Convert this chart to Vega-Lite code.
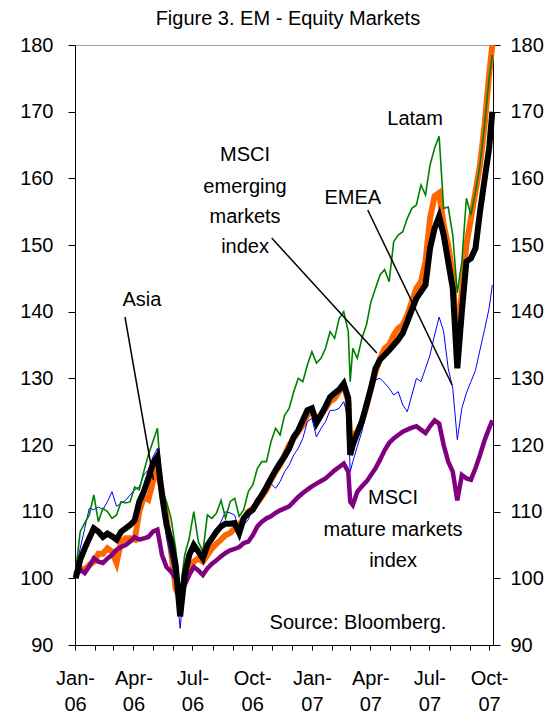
{
  "$schema": "https://vega.github.io/schema/vega-lite/v6.json",
  "width": 418,
  "height": 600,
  "autosize": "none",
  "padding": {"left": 75, "top": 45, "right": 56, "bottom": 72},
  "background": "white",
  "config": {
    "view": {"stroke": "#a6a6a6", "strokeWidth": 1},
    "axis": {"labelFont": "Liberation Sans", "labelFontSize": 20, "labelColor": "black", "domainColor": "black", "tickColor": "black", "grid": false, "title": null},
    "text": {"font": "Liberation Sans", "fontSize": 20, "color": "black"}
  },
  "datasets": {
    "series": [
      {"d":"2006-01-02","M":100,"E":100.5,"L":101,"A":101,"W":100.5},
      {"d":"2006-01-09","M":102.8,"E":101.5,"L":107,"A":104.5,"W":101.3},
      {"d":"2006-01-16","M":104.5,"E":101.3,"L":108.3,"A":107.5,"W":100.8},
      {"d":"2006-01-23","M":106,"E":102,"L":109.5,"A":110.5,"W":101.8},
      {"d":"2006-01-30","M":107.5,"E":102.5,"L":112.5,"A":110.3,"W":103},
      {"d":"2006-02-06","M":107,"E":103.7,"L":108.5,"A":110.7,"W":102.5},
      {"d":"2006-02-13","M":106.2,"E":103.7,"L":110.5,"A":110.3,"W":102.3},
      {"d":"2006-02-20","M":106.7,"E":104.5,"L":110,"A":111.5,"W":103},
      {"d":"2006-02-27","M":106.3,"E":104,"L":109,"A":113,"W":103.5},
      {"d":"2006-03-06","M":105.8,"E":102.3,"L":109.5,"A":110.8,"W":104.3},
      {"d":"2006-03-13","M":107,"E":105.5,"L":111.5,"A":111.3,"W":104.7},
      {"d":"2006-03-20","M":107.5,"E":106,"L":111.3,"A":111.7,"W":105},
      {"d":"2006-03-27","M":108,"E":106,"L":111.5,"A":112.5,"W":105.5},
      {"d":"2006-04-03","M":108.7,"E":105.8,"L":113.7,"A":113.3,"W":106.2},
      {"d":"2006-04-10","M":111.5,"E":110,"L":113.3,"A":113.7,"W":105.8},
      {"d":"2006-04-17","M":113,"E":112.2,"L":116,"A":115.5,"W":106},
      {"d":"2006-04-24","M":115,"E":111.8,"L":118.5,"A":116.3,"W":106.2},
      {"d":"2006-05-01","M":117.2,"E":114.5,"L":120.5,"A":118.2,"W":107},
      {"d":"2006-05-08","M":118.3,"E":116.5,"L":122.5,"A":119.5,"W":107.3},
      {"d":"2006-05-15","M":112.5,"E":113,"L":113,"A":112,"W":103.5},
      {"d":"2006-05-22","M":108,"E":109,"L":111.5,"A":106,"W":101.7},
      {"d":"2006-05-29","M":105.5,"E":104,"L":109,"A":103,"W":101},
      {"d":"2006-06-05","M":102,"E":98.5,"L":104.5,"A":99.5,"W":100},
      {"d":"2006-06-12","M":94.3,"E":97,"L":98,"A":92.5,"W":98.5},
      {"d":"2006-06-19","M":100.5,"E":99.5,"L":103.5,"A":100,"W":99},
      {"d":"2006-06-26","M":103.5,"E":101,"L":106,"A":102,"W":100.5},
      {"d":"2006-07-03","M":105,"E":102.5,"L":110,"A":105.5,"W":101.7},
      {"d":"2006-07-10","M":104,"E":103,"L":105.5,"A":103.5,"W":101.2},
      {"d":"2006-07-17","M":103,"E":102.5,"L":104,"A":102.5,"W":100.5},
      {"d":"2006-07-24","M":105,"E":103.5,"L":109.5,"A":105,"W":101.5},
      {"d":"2006-07-31","M":106,"E":104.5,"L":109,"A":105.5,"W":102.2},
      {"d":"2006-08-07","M":107,"E":105.2,"L":109.8,"A":107,"W":102.7},
      {"d":"2006-08-14","M":107.8,"E":105.8,"L":111.7,"A":108.5,"W":103.3},
      {"d":"2006-08-21","M":108.2,"E":106.5,"L":109,"A":110,"W":103.8},
      {"d":"2006-08-28","M":108.2,"E":106.8,"L":111.5,"A":109.8,"W":104.2},
      {"d":"2006-09-04","M":108.3,"E":107.5,"L":112,"A":109.5,"W":104.4},
      {"d":"2006-09-11","M":106.8,"E":108,"L":109.3,"A":107,"W":104.7},
      {"d":"2006-09-18","M":109,"E":109,"L":110.3,"A":108,"W":105.3},
      {"d":"2006-09-25","M":109.8,"E":110,"L":113,"A":108.8,"W":105.5},
      {"d":"2006-10-02","M":110.3,"E":110.5,"L":114,"A":110.5,"W":106.5},
      {"d":"2006-10-09","M":111.5,"E":111.3,"L":116.5,"A":111.8,"W":107.8},
      {"d":"2006-10-16","M":112.5,"E":112.3,"L":117.5,"A":112.8,"W":108.5},
      {"d":"2006-10-23","M":113.7,"E":113.3,"L":117.5,"A":113.5,"W":109},
      {"d":"2006-10-30","M":115,"E":114.8,"L":120.5,"A":114.2,"W":109.3},
      {"d":"2006-11-06","M":116.2,"E":116,"L":122.5,"A":113.5,"W":109.8},
      {"d":"2006-11-13","M":117.3,"E":117,"L":121.5,"A":114.5,"W":110.2},
      {"d":"2006-11-20","M":118.3,"E":118.5,"L":124.5,"A":116,"W":110.5},
      {"d":"2006-11-27","M":119.5,"E":120,"L":125.5,"A":117,"W":110.8},
      {"d":"2006-12-04","M":121.2,"E":121,"L":128,"A":118.5,"W":111.5},
      {"d":"2006-12-11","M":122.2,"E":122,"L":130,"A":119.5,"W":112.2},
      {"d":"2006-12-18","M":123.7,"E":123,"L":129.5,"A":121,"W":112.8},
      {"d":"2006-12-25","M":125.2,"E":124.5,"L":132,"A":123.5,"W":113.3},
      {"d":"2007-01-01","M":125.5,"E":125,"L":134,"A":124,"W":113.8},
      {"d":"2007-01-08","M":123.3,"E":124,"L":132.3,"A":121.2,"W":114.2},
      {"d":"2007-01-15","M":124.5,"E":124.5,"L":133,"A":122.5,"W":114.6},
      {"d":"2007-01-22","M":125.8,"E":125.5,"L":134.5,"A":123.5,"W":115},
      {"d":"2007-01-29","M":127.2,"E":126.5,"L":137,"A":125.2,"W":115.6},
      {"d":"2007-02-05","M":127.8,"E":127,"L":136,"A":125.2,"W":116.2},
      {"d":"2007-02-12","M":128.3,"E":128,"L":139,"A":125.5,"W":116.7},
      {"d":"2007-02-19","M":129.2,"E":129,"L":140,"A":126.5,"W":117.2},
      {"d":"2007-02-26","M":127,"E":126.5,"L":137,"A":124,"W":116},
      {"d":"2007-03-01","M":118.5,"E":120,"L":129.5,"A":116,"W":111.5},
      {"d":"2007-03-05","M":120,"E":121.5,"L":134.5,"A":117.5,"W":111},
      {"d":"2007-03-12","M":121.8,"E":122,"L":133,"A":119.8,"W":113},
      {"d":"2007-03-19","M":123.5,"E":123.5,"L":136,"A":122,"W":113.8},
      {"d":"2007-03-26","M":126,"E":125.8,"L":138,"A":125,"W":114.5},
      {"d":"2007-04-02","M":128.5,"E":128.5,"L":141.5,"A":127.5,"W":115.5},
      {"d":"2007-04-09","M":131.5,"E":131,"L":143.5,"A":129.8,"W":116.5},
      {"d":"2007-04-16","M":132.8,"E":133,"L":145.5,"A":130,"W":117.8},
      {"d":"2007-04-23","M":133.5,"E":134.5,"L":146.3,"A":129.3,"W":119.2},
      {"d":"2007-04-30","M":134.2,"E":135,"L":144.5,"A":128.5,"W":120.3},
      {"d":"2007-05-07","M":135,"E":136.5,"L":150.5,"A":127.5,"W":121},
      {"d":"2007-05-14","M":135.8,"E":137.5,"L":151.5,"A":128,"W":121.5},
      {"d":"2007-05-21","M":136.8,"E":138,"L":152,"A":126,"W":122},
      {"d":"2007-05-28","M":138.5,"E":139.5,"L":154,"A":125,"W":122.3},
      {"d":"2007-06-04","M":140.3,"E":141.5,"L":155.5,"A":127.5,"W":122.6},
      {"d":"2007-06-11","M":142,"E":143.5,"L":156,"A":130,"W":122.8},
      {"d":"2007-06-18","M":143,"E":144.5,"L":159,"A":129.5,"W":122.3},
      {"d":"2007-06-25","M":144,"E":147.5,"L":157.5,"A":131.5,"W":121.8},
      {"d":"2007-07-02","M":149.5,"E":154,"L":162,"A":133.5,"W":122.8},
      {"d":"2007-07-09","M":152.5,"E":157.3,"L":164.5,"A":136.5,"W":123.7},
      {"d":"2007-07-16","M":154.3,"E":157.8,"L":166.3,"A":139.2,"W":123.2},
      {"d":"2007-07-23","M":151.5,"E":153,"L":155.5,"A":137,"W":120},
      {"d":"2007-07-30","M":147.5,"E":150,"L":155.7,"A":131.5,"W":117.5},
      {"d":"2007-08-06","M":143.5,"E":145.5,"L":151.5,"A":128.5,"W":116},
      {"d":"2007-08-13","M":131.5,"E":134.5,"L":142.8,"A":120.8,"W":111.7},
      {"d":"2007-08-20","M":140,"E":143,"L":147.5,"A":125.5,"W":115.5},
      {"d":"2007-08-27","M":147.5,"E":150,"L":157,"A":127.8,"W":115},
      {"d":"2007-09-03","M":148,"E":154,"L":154.5,"A":129.5,"W":114.8},
      {"d":"2007-09-10","M":149.5,"E":158,"L":158,"A":131.2,"W":116.5},
      {"d":"2007-09-17","M":155,"E":162,"L":162,"A":134.3,"W":118.5},
      {"d":"2007-09-24","M":159.8,"E":168,"L":168,"A":137.3,"W":120.7},
      {"d":"2007-10-01","M":164.5,"E":175.5,"L":175,"A":140.5,"W":122.5},
      {"d":"2007-10-06","M":170,"E":180,"L":178.5,"A":144,"W":123.7}
    ],
    "labels": [
      {"t":"Figure 3. EM - Equity Markets","d":"2006-11-25","v":183.9},
      {"t":"Latam","d":"2007-06-09","v":168.9},
      {"t":"EMEA","d":"2007-03-05","v":157.05},
      {"t":"MSCI","d":"2006-09-20","v":163.5},
      {"t":"emerging","d":"2006-09-20","v":158.7},
      {"t":"markets","d":"2006-09-20","v":154.2},
      {"t":"index","d":"2006-09-20","v":149.7},
      {"t":"Asia","d":"2006-04-14","v":141.75},
      {"t":"MSCI","d":"2007-05-06","v":112.05},
      {"t":"mature markets","d":"2007-05-06","v":107.25},
      {"t":"index","d":"2007-05-06","v":102.6},
      {"t":"Source: Bloomberg.","d":"2007-03-13","v":93.3}
    ],
    "leaders": [
      {"d":"2006-03-19","v":139.2,"d2":"2006-05-02","v2":114.75},
      {"d":"2006-10-31","v":151.05,"d2":"2007-04-11","v2":133.8},
      {"d":"2007-03-28","v":155.25,"d2":"2007-08-05","v2":129}
    ]
  },
  "data": {"name": "series"},
  "encoding": {
    "x": {
      "field": "d",
      "type": "temporal",
      "scale": {"type": "utc", "domain": [{"year": 2006, "month": 1, "date": 1, "utc": true}, {"year": 2007, "month": 10, "date": 7, "utc": true}]},
      "axis": {
        "tickCount": {"interval": "month", "step": 1},
        "labelExpr": "indexof([0,3,6,9], utcmonth(datum.value)) >= 0 ? [utcFormat(datum.value, '%b-'), utcFormat(datum.value, '%y')] : ''",
        "labelAngle": 0,
        "labelAlign": "center",
        "labelBaseline": "top",
        "labelPadding": 18,
        "labelLineHeight": 26,
        "labelOverlap": false,
        "labelFlush": false,
        "tickSize": 5,
        "title": null
      }
    }
  },
  "layer": [
    {
      "mark": {"type": "line", "color": "#FF6600", "strokeWidth": 6},
      "encoding": {"y": {"field": "E", "type": "quantitative", "scale": {"domain": [90, 180], "nice": false, "zero": false}, "axis": {"orient": "left", "values": [90, 100, 110, 120, 130, 140, 150, 160, 170, 180], "tickSize": 7, "labelPadding": 15}}}
    },
    {
      "mark": {"type": "line", "color": "#0000FF", "strokeWidth": 1},
      "encoding": {"y": {"field": "A", "type": "quantitative", "scale": {"domain": [90, 180], "nice": false, "zero": false}, "axis": null}}
    },
    {
      "mark": {"type": "line", "color": "#008000", "strokeWidth": 1.6},
      "encoding": {"y": {"field": "L", "type": "quantitative", "scale": {"domain": [90, 180], "nice": false, "zero": false}, "axis": null}}
    },
    {
      "mark": {"type": "line", "color": "#800080", "strokeWidth": 4.5},
      "encoding": {"y": {"field": "W", "type": "quantitative", "scale": {"domain": [90, 180], "nice": false, "zero": false}, "axis": null}}
    },
    {
      "mark": {"type": "line", "color": "#000000", "strokeWidth": 6},
      "encoding": {"y": {"field": "M", "type": "quantitative", "scale": {"domain": [90, 180], "nice": false, "zero": false}, "axis": {"orient": "right", "values": [90, 100, 110, 120, 130, 140, 150, 160, 170, 180], "tickSize": 7, "labelPadding": 10}}}
    },
    {
      "data": {"name": "leaders"},
      "mark": {"type": "rule", "color": "black", "strokeWidth": 1.5},
      "encoding": {
        "x2": {"field": "d2"},
        "y": {"field": "v", "type": "quantitative", "scale": {"domain": [90, 180], "nice": false, "zero": false}, "axis": null},
        "y2": {"field": "v2"}
      }
    },
    {
      "data": {"name": "labels"},
      "mark": {"type": "text", "align": "center", "baseline": "middle", "font": "Liberation Sans", "fontSize": 20, "color": "black", "clip": false},
      "encoding": {
        "y": {"field": "v", "type": "quantitative", "scale": {"domain": [90, 180], "nice": false, "zero": false}, "axis": null},
        "text": {"field": "t"}
      }
    }
  ],
  "resolve": {"axis": {"y": "independent"}}
}
